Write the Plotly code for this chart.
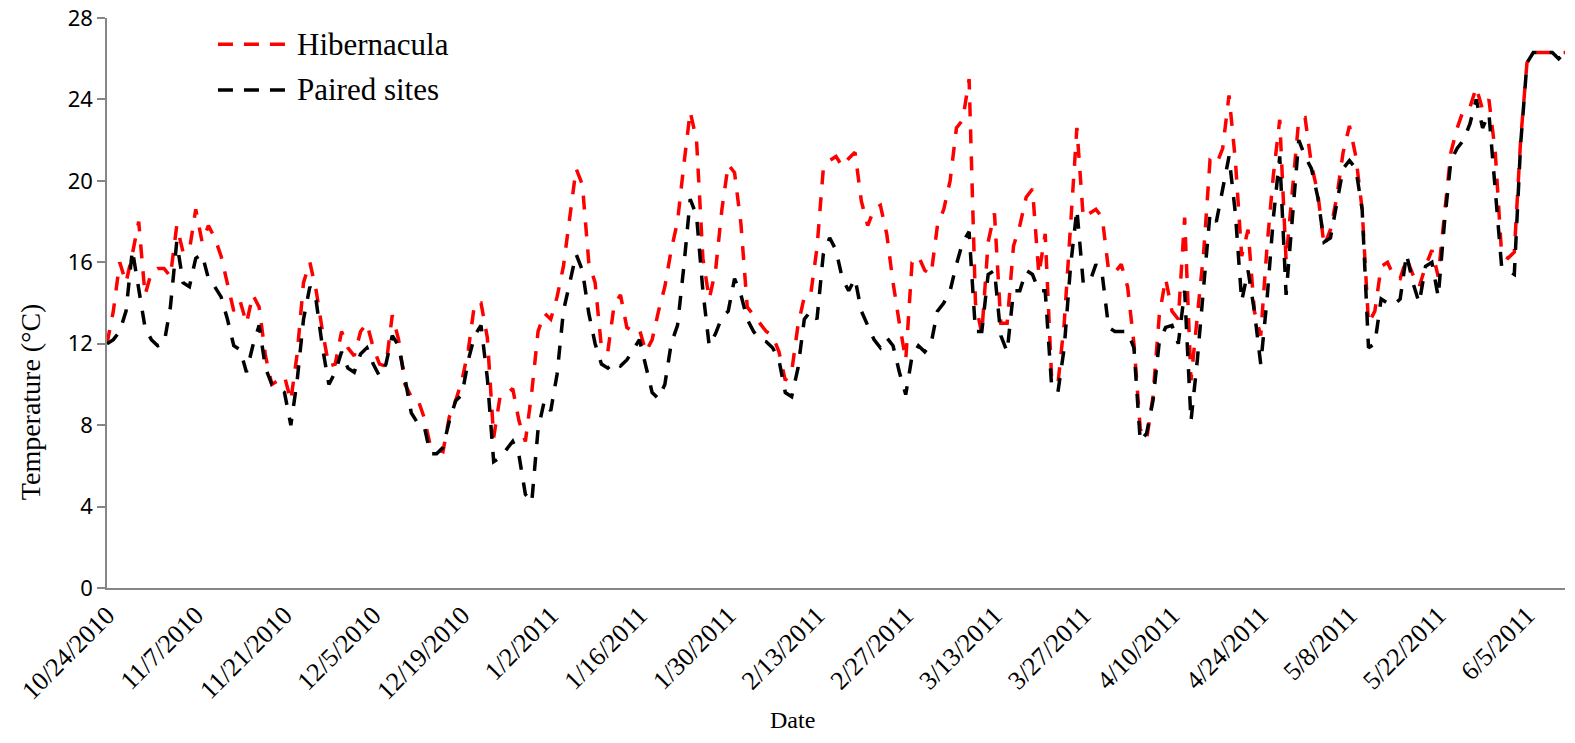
import pandas as pd
import plotly.graph_objects as go

start_date = "2010-10-24"
hibernacula = [
    12.0, 13.6, 16.0, 15.0, 16.4, 18.0, 14.4, 15.5, 15.7, 15.7,
    15.3, 17.8, 16.5, 16.6, 18.6, 17.0, 17.8, 17.2, 16.3, 15.0,
    13.6, 14.1, 13.0, 14.4, 13.8, 11.4, 10.0, 10.2, 10.4, 9.2,
    11.5, 15.0, 16.0, 14.6, 12.6, 10.9, 11.0, 12.6, 11.8, 11.4,
    12.6, 13.0, 11.8, 11.0, 10.9, 13.4, 12.2, 10.0, 9.4, 9.3,
    8.4, 7.0, 6.8, 6.7, 8.4, 9.2, 10.2, 11.7, 14.0, 14.0,
    12.3, 7.4, 9.4, 9.5, 9.8, 8.2, 7.2, 9.6, 12.6, 13.5,
    13.2, 14.3, 15.8, 18.2, 20.6, 19.8, 16.0, 15.0, 11.8, 11.6,
    13.9, 14.4, 12.8, 12.6, 12.7, 11.6, 12.2, 13.6, 14.8, 16.6,
    18.0, 20.8, 23.4, 22.0, 16.2, 14.2, 15.6, 18.6, 20.8, 20.4,
    17.9, 13.8, 13.4, 13.0, 12.6, 12.4, 11.6, 10.2, 10.6, 12.9,
    14.3, 14.4, 16.7, 20.6, 21.0, 21.2, 20.7, 21.1, 21.4, 19.0,
    17.8, 18.6, 18.8, 17.4, 15.0, 13.0, 11.2, 16.0, 16.3, 15.6,
    15.4, 17.8, 18.6, 20.0, 22.6, 23.0, 25.0, 14.0, 12.5, 17.0,
    18.4, 13.0, 13.0, 16.8, 17.8, 19.2, 19.6, 15.4, 17.4, 10.4,
    10.0, 13.0, 18.0, 22.6, 18.2, 18.4, 18.6, 18.2, 15.6, 15.5,
    15.9, 14.8, 12.0, 7.8, 7.3, 9.4, 13.4, 15.2, 13.6, 13.2,
    18.2, 10.2, 13.2, 16.5, 21.0, 20.8, 21.6, 24.2, 21.0, 16.3,
    17.6, 13.6, 12.4, 16.8, 20.3, 23.0, 16.1, 19.6, 23.0, 23.1,
    20.8, 19.4, 16.8, 17.6, 19.2, 21.4, 22.7, 21.2, 18.6, 13.0,
    13.6, 15.8, 16.0, 15.3, 15.2, 16.2, 15.4, 14.8, 15.8, 16.6,
    15.3, 18.4, 21.4, 22.6, 23.5, 23.6, 24.6, 23.5, 24.0, 21.4,
    16.4, 16.2, 16.5, 22.0, 25.8, 26.3, 26.3, 26.3, 26.3, 26.3,
    26.3,
]
paired_sites = [
    12.0, 12.2, 12.6, 13.6, 16.6, 14.8, 12.8, 12.2, 11.9, 12.0,
    13.8, 17.0, 15.0, 14.8, 16.2, 16.4, 15.2, 14.8, 14.3, 13.2,
    11.9, 11.7, 10.6, 11.9, 12.9, 10.8, 10.0, 9.8, 9.6, 8.0,
    10.2, 13.2, 14.8, 14.1, 11.8, 10.0, 10.6, 11.6, 10.8, 10.6,
    11.5, 11.8, 11.0, 10.4, 11.0, 12.4, 11.9, 10.3, 8.6, 8.1,
    8.0, 6.6, 6.6, 6.9, 8.2, 9.2, 9.5, 11.2, 12.4, 12.9,
    10.3, 6.2, 6.4, 6.8, 7.2, 6.5, 4.6, 4.2, 7.8, 9.2,
    8.7, 10.5, 13.6, 15.0, 16.4, 15.6, 13.5, 12.0, 11.0, 10.8,
    11.1, 10.9, 11.2, 11.7, 12.2, 10.9, 9.6, 9.3, 10.0, 12.0,
    12.9, 15.8, 19.1, 18.3, 14.6, 11.9, 12.5, 13.3, 13.6, 15.2,
    14.4, 13.2, 12.6, 12.2, 12.1, 11.8, 11.2, 9.6, 9.4, 10.8,
    13.2, 13.6, 13.2, 16.4, 17.2, 16.6, 15.2, 14.6, 15.2, 13.6,
    12.9, 12.2, 11.8, 12.3, 11.9, 10.6, 9.5, 11.4, 11.9, 11.6,
    12.0, 13.6, 14.0, 14.6, 15.9, 17.0, 17.5, 12.6, 12.6, 15.4,
    15.6, 12.4, 11.6, 14.6, 14.6, 15.6, 15.4, 14.6, 14.6, 10.0,
    9.6, 11.8, 15.8, 18.6, 15.0, 15.0, 15.9, 15.4, 12.8, 12.6,
    12.6, 12.6, 11.8, 7.2, 7.6, 9.2, 12.1, 12.8, 12.9, 12.0,
    14.6, 8.2, 11.2, 15.0, 18.4, 18.0, 19.6, 21.2, 18.4, 14.1,
    15.6, 13.6, 11.0, 14.2, 18.2, 21.2, 14.4, 18.0, 22.0, 21.2,
    20.6, 19.2, 17.0, 17.2, 18.8, 20.6, 21.0, 20.6, 18.6, 11.8,
    12.0, 14.2, 14.0, 13.9, 14.2, 16.4, 15.0, 14.0, 15.8, 16.0,
    14.3, 18.0, 21.0, 21.6, 22.0, 22.8, 24.0, 22.6, 23.3, 19.5,
    15.8, 15.6, 15.4, 21.8, 25.8, 26.3, 26.3, 26.3, 26.3, 26.0,
    26.3,
]
tick_dates = ["2010-10-24", "2010-11-07", "2010-11-21", "2010-12-05", "2010-12-19",
              "2011-01-02", "2011-01-16", "2011-01-30", "2011-02-13", "2011-02-27",
              "2011-03-13", "2011-03-27", "2011-04-10", "2011-04-24", "2011-05-08",
              "2011-05-22", "2011-06-05"]
tick_labels = ["10/24/2010", "11/7/2010", "11/21/2010", "12/5/2010", "12/19/2010",
               "1/2/2011", "1/16/2011", "1/30/2011", "2/13/2011", "2/27/2011",
               "3/13/2011", "3/27/2011", "4/10/2011", "4/24/2011", "5/8/2011",
               "5/22/2011", "6/5/2011"]
y_ticks = [0, 4, 8, 12, 16, 20, 24, 28]
series_names = ["Hibernacula", "Paired sites"]
series_colors = ["#FF0000", "#000000"]

dates = pd.date_range(start_date, periods=len(hibernacula), freq="D")

DASH = "14px,13px"
LW = 3.5

fig = go.Figure()
for name, vals, col in zip(series_names, [hibernacula, paired_sites], series_colors):
    fig.add_trace(go.Scatter(x=dates, y=vals, mode="lines", name=name,
                             line=dict(color=col, width=LW, dash=DASH),
                             showlegend=False))

# manual legend (long dashed sample lines like the original)
legend_y = [0.954, 0.8737]
for name, col, ly in zip(series_names, series_colors, legend_y):
    fig.add_shape(type="line", xref="paper", yref="paper",
                  x0=0.0761, x1=0.1235, y0=ly, y1=ly,
                  line=dict(color=col, width=LW, dash="15px,11px"))
    fig.add_annotation(text=name, xref="paper", yref="paper", x=0.1290, y=ly,
                       xanchor="left", yanchor="middle", showarrow=False,
                       font=dict(family="Liberation Serif", size=31, color="black"))

fig.add_annotation(text="Temperature (°C)", xref="paper", yref="paper",
                   x=-0.0528, y=0.326, textangle=-90, showarrow=False,
                   xanchor="center", yanchor="middle",
                   font=dict(family="Liberation Serif", size=28, color="black"))
fig.add_annotation(text="Date", xref="paper", yref="paper",
                   x=0.4705, y=-0.2316, showarrow=False,
                   xanchor="center", yanchor="middle",
                   font=dict(family="Liberation Serif", size=24, color="black"))

fig.update_xaxes(range=[dates[0], dates[-1]], tickvals=pd.to_datetime(tick_dates),
                 ticktext=tick_labels, tickangle=-45, ticks="", automargin=False,
                 ticklabeloverflow="allow",
                 showgrid=False, zeroline=False, showline=True,
                 linecolor="#868686", linewidth=1.5,
                 tickfont=dict(family="Liberation Serif", size=26, color="black"))
fig.update_yaxes(range=[0, 28], tickvals=y_ticks, ticks="outside", ticklen=8,
                 tickwidth=1.5, tickcolor="#868686", automargin=False,
                 ticklabeloverflow="allow",
                 showgrid=False, zeroline=False, showline=True,
                 linecolor="#868686", linewidth=1.5,
                 tickfont=dict(family="Noto Sans", size=22, color="black"))
fig.update_layout(width=1575, height=743, plot_bgcolor="white", paper_bgcolor="white",
                  margin=dict(l=107, r=10, t=18, b=155), showlegend=False)

# remove the browser's default 8px body margin so the figure sits at the page corner
fig.write_html("out.html", config={"displayModeBar": False},
               post_script="document.body.style.margin='0';")
